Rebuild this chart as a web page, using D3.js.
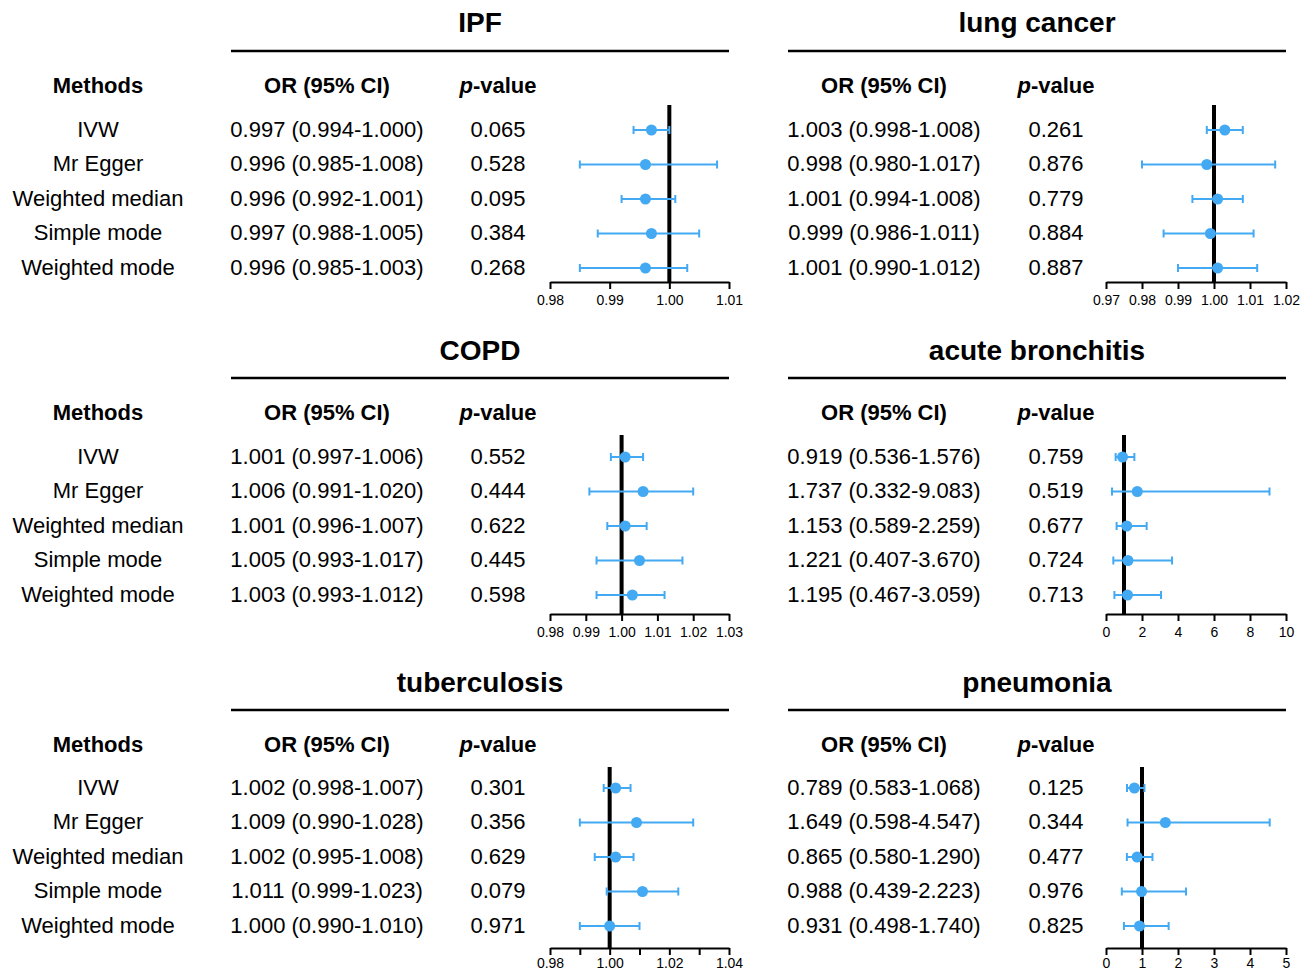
<!DOCTYPE html>
<html>
<head>
<meta charset="utf-8">
<script src="https://cdn.jsdelivr.net/npm/d3@7"></script>
<style>
	body { margin: 0; background: #fff; }
	svg { display: block; font-family: "Liberation Sans", Arial, Helvetica, sans-serif; }
</style>
</head>
<body>
<svg id="chart" width="1307" height="973"></svg>
<script>
	'use strict';

	// methods (rows)
	var methods = ['IVW', 'Mr Egger', 'Weighted median', 'Simple mode', 'Weighted mode'];

	// outcomes (panels), in reading order
	var outcomes = ['IPF', 'lung cancer', 'COPD', 'acute bronchitis', 'tuberculosis', 'pneumonia'];

	// odds ratio, lower and upper 95% CI, p-value per outcome
	var orIPF = [0.997, 0.996, 0.996, 0.997, 0.996];
	var loIPF = [0.994, 0.985, 0.992, 0.988, 0.985];
	var hiIPF = [1.000, 1.008, 1.001, 1.005, 1.003];
	var pIPF = ['0.065', '0.528', '0.095', '0.384', '0.268'];

	var orLung = [1.003, 0.998, 1.001, 0.999, 1.001];
	var loLung = [0.998, 0.980, 0.994, 0.986, 0.990];
	var hiLung = [1.008, 1.017, 1.008, 1.011, 1.012];
	var pLung = ['0.261', '0.876', '0.779', '0.884', '0.887'];

	var orCOPD = [1.001, 1.006, 1.001, 1.005, 1.003];
	var loCOPD = [0.997, 0.991, 0.996, 0.993, 0.993];
	var hiCOPD = [1.006, 1.020, 1.007, 1.017, 1.012];
	var pCOPD = ['0.552', '0.444', '0.622', '0.445', '0.598'];

	var orBronch = [0.919, 1.737, 1.153, 1.221, 1.195];
	var loBronch = [0.536, 0.332, 0.589, 0.407, 0.467];
	var hiBronch = [1.576, 9.083, 2.259, 3.670, 3.059];
	var pBronch = ['0.759', '0.519', '0.677', '0.724', '0.713'];

	var orTB = [1.002, 1.009, 1.002, 1.011, 1.000];
	var loTB = [0.998, 0.990, 0.995, 0.999, 0.990];
	var hiTB = [1.007, 1.028, 1.008, 1.023, 1.010];
	var pTB = ['0.301', '0.356', '0.629', '0.079', '0.971'];

	var orPneu = [0.789, 1.649, 0.865, 0.988, 0.931];
	var loPneu = [0.583, 0.598, 0.580, 0.439, 0.498];
	var hiPneu = [1.068, 4.547, 1.290, 2.223, 1.740];
	var pPneu = ['0.125', '0.344', '0.477', '0.976', '0.825'];

	// axis domains and ticks per outcome
	var domains = [[0.98, 1.01], [0.97, 1.02], [0.98, 1.03], [0, 10], [0.98, 1.04], [0, 5]];
	var ticks = [
		[0.98, 0.99, 1.00, 1.01],
		[0.97, 0.98, 0.99, 1.00, 1.01, 1.02],
		[0.98, 0.99, 1.00, 1.01, 1.02, 1.03],
		[0, 2, 4, 6, 8, 10],
		[0.98, 0.99, 1.00, 1.01, 1.02, 1.03, 1.04],
		[0, 1, 2, 3, 4, 5]
	];
	var tickLabels = [
		['0.98', '0.99', '1.00', '1.01'],
		['0.97', '0.98', '0.99', '1.00', '1.01', '1.02'],
		['0.98', '0.99', '1.00', '1.01', '1.02', '1.03'],
		['0', '2', '4', '6', '8', '10'],
		['0.98', '', '1.00', '', '1.02', '', '1.04'],
		['0', '1', '2', '3', '4', '5']
	];

	var ors = [orIPF, orLung, orCOPD, orBronch, orTB, orPneu];
	var los = [loIPF, loLung, loCOPD, loBronch, loTB, loPneu];
	var his = [hiIPF, hiLung, hiCOPD, hiBronch, hiTB, hiPneu];
	var ps = [pIPF, pLung, pCOPD, pBronch, pTB, pPneu];

	var blue = '#43a9f3';

	// layout per column / panel row
	var cols = [
		{ method: 98, or: 327, p: 498, line: [231, 729], title: 480, plot: [550, 729] },
		{ method: null, or: 884, p: 1056, line: [788, 1286], title: 1037, plot: [1106, 1286] }
	];
	var rowsLayout = [
		{ title: 22, line: 51, header: 85, first: 130, axis: 282, refTop: 105, pad: 6 },
		{ title: 350, line: 378, header: 412, first: 457, axis: 614, refTop: 435, pad: 6 },
		{ title: 682, line: 710, header: 744, first: 788, axis: 948, refTop: 767, pad: 3 }
	];

	var svg = d3.select('#chart');

	outcomes.forEach(function(name, k) {
		var c = cols[k % 2],
			r = rowsLayout[Math.floor(k / 2)];

		var g = svg.append('g').attr('class', 'panel');

		var data = methods.map(function(m, i) {
			return { method: m, or: ors[k][i], lo: los[k][i], hi: his[k][i], p: ps[k][i] };
		});

		var x = d3.scaleLinear().domain(domains[k]).range(c.plot);
		var y = d3.scalePoint().domain(methods).range([r.first, r.first + 4 * 34.5]);

		// title and rule
		g.append('text')
			.attr('x', c.title).attr('y', r.title).attr('dy', '0.35em')
			.attr('text-anchor', 'middle')
			.attr('font-size', 28).attr('font-weight', 'bold')
			.text(name);
		g.append('line')
			.attr('x1', c.line[0]).attr('x2', c.line[1])
			.attr('y1', r.line).attr('y2', r.line)
			.attr('stroke', '#000').attr('stroke-width', 2.5);

		// headers
		if (c.method !== null) {
			g.append('text')
				.attr('x', c.method).attr('y', r.header).attr('dy', '0.35em')
				.attr('text-anchor', 'middle')
				.attr('font-size', 22).attr('font-weight', 'bold')
				.text('Methods');
		}
		g.append('text')
			.attr('x', c.or).attr('y', r.header).attr('dy', '0.35em')
			.attr('text-anchor', 'middle')
			.attr('font-size', 22).attr('font-weight', 'bold')
			.text('OR (95% CI)');
		var ph = g.append('text')
			.attr('x', c.p).attr('y', r.header).attr('dy', '0.35em')
			.attr('text-anchor', 'middle')
			.attr('font-size', 22).attr('font-weight', 'bold');
		ph.append('tspan').attr('font-style', 'italic').text('p');
		ph.append('tspan').text('-value');

		// table text
		if (c.method !== null) {
			g.selectAll('text.method')
				.data(data).enter()
				.append('text')
					.attr('class', 'method')
					.attr('x', c.method)
					.attr('y', function(d) { return y(d.method) - 1; })
					.attr('dy', '0.35em')
					.attr('text-anchor', 'middle')
					.attr('font-size', 22)
					.text(function(d) { return d.method; });
		}
		g.selectAll('text.or')
			.data(data).enter()
			.append('text')
				.attr('class', 'or')
				.attr('x', c.or)
				.attr('y', function(d) { return y(d.method) - 1; })
				.attr('dy', '0.35em')
				.attr('text-anchor', 'middle')
				.attr('font-size', 22)
				.text(function(d) {
					return d.or.toFixed(3) + ' (' + d.lo.toFixed(3) + '-' + d.hi.toFixed(3) + ')';
				});
		g.selectAll('text.pv')
			.data(data).enter()
			.append('text')
				.attr('class', 'pv')
				.attr('x', c.p)
				.attr('y', function(d) { return y(d.method) - 1; })
				.attr('dy', '0.35em')
				.attr('text-anchor', 'middle')
				.attr('font-size', 22)
				.text(function(d) { return d.p; });

		// x axis
		var axis = g.append('g')
			.attr('transform', 'translate(0,' + r.axis + ')')
			.call(d3.axisBottom(x)
				.tickValues(ticks[k])
				.tickFormat(function(d, i) { return tickLabels[k][i]; })
				.tickSize(7)
				.tickPadding(r.pad)
				.tickSizeOuter(0));
		axis.attr('font-size', 14)
			.attr('font-family', '"Liberation Sans", Arial, sans-serif');
		axis.select('.domain').attr('stroke-width', 2.2);
		axis.selectAll('.tick line').attr('stroke-width', 2);
		axis.selectAll('.tick text').attr('fill', '#000');

		// null line at OR = 1
		g.append('line')
			.attr('x1', x(1)).attr('x2', x(1))
			.attr('y1', r.refTop).attr('y2', r.axis)
			.attr('stroke', '#000').attr('stroke-width', 4);

		// error bars
		g.selectAll('line.ci')
			.data(data).enter()
			.append('line')
				.attr('class', 'ci')
				.attr('x1', function(d) { return x(d.lo); })
				.attr('x2', function(d) { return x(d.hi); })
				.attr('y1', function(d) { return y(d.method); })
				.attr('y2', function(d) { return y(d.method); })
				.attr('stroke', blue).attr('stroke-width', 2);

		['lo', 'hi'].forEach(function(key) {
			g.selectAll('line.cap-' + key)
				.data(data).enter()
				.append('line')
					.attr('class', 'cap-' + key)
					.attr('x1', function(d) { return x(d[key]); })
					.attr('x2', function(d) { return x(d[key]); })
					.attr('y1', function(d) { return y(d.method) - 4; })
					.attr('y2', function(d) { return y(d.method) + 4; })
					.attr('stroke', blue).attr('stroke-width', 2);
		});

		g.selectAll('circle.pt')
			.data(data).enter()
			.append('circle')
				.attr('class', 'pt')
				.attr('cx', function(d) { return x(d.or); })
				.attr('cy', function(d) { return y(d.method); })
				.attr('r', 5.5)
				.attr('fill', blue);
	});
</script>
</body>
</html>
